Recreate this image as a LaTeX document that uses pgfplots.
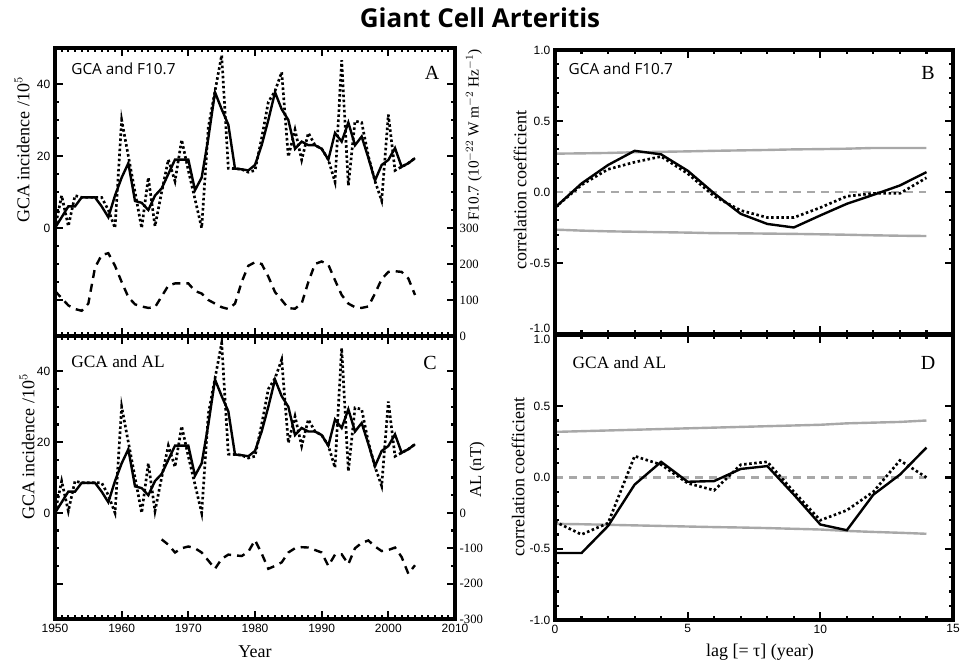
\documentclass[border=0pt]{standalone}
\usepackage{fontspec}
\setmainfont{Liberation Serif}
\setsansfont{Liberation Sans}
\newfontfamily\myriad{Open Sans}
\usepackage{pgfplots}
\usepackage{pgfplotstable}
\pgfplotsset{compat=1.18}

\definecolor{bandgray}{gray}{0.66}

% GCA incidence, solid and dotted series
\pgfplotstableread{
year solid dotted
1950 0    0
1951 3    9
1952 6    0.5
1953 6    9
1954 8.5  8.5
1955 8.5  8.5
1956 8.5  8.5
1957 6    8.5
1958 3    5
1959 9    0
1960 14   30
1961 18   20
1962 7.5  10
1963 7    0
1964 5    14
1965 9    0.5
1966 11   10
1967 15   19
1968 19   13
1969 19   24.5
1970 19   16
1971 10.5 8
1972 14   0
1973 25   28
1974 37.7 38
1975 33   48
1976 28.7 16.6
1977 16.5 16.5
1978 16.3 16.3
1979 16   15.5
1980 17.5 16
1981 23   25
1982 30   35
1983 37.7 38
1984 33   43.3
1985 30   19.8
1986 22   27.3
1987 24   18.9
1988 23   26.4
1989 23   23
1990 22   22
1991 19   19
1992 26.4 12.8
1993 24   46.6
1994 29.3 11.8
1995 23   29.7
1996 25.4 29.3
1997 19.5 20
1998 13.2 13
1999 17.5 7.6
2000 18.9 31.5
2001 22.2 16
2002 17   17
2003 18   18
2004 19.4 19.4
}\gca

% F10.7 solar flux
\pgfplotstableread{
year f
1950 125
1951 105
1952 85
1953 75
1954 70
1955 90
1956 190
1957 225
1958 230
1959 195
1960 150
1961 108
1962 88
1963 82
1964 78
1965 80
1966 110
1967 140
1968 146
1969 146
1970 146
1971 125
1972 118
1973 100
1974 90
1975 80
1976 75
1977 90
1978 150
1979 195
1980 205
1981 200
1982 165
1983 122
1984 100
1985 77
1986 76
1987 90
1988 150
1989 200
1990 207
1991 198
1992 155
1993 114
1994 90
1995 80
1996 78
1997 82
1998 118
1999 158
2000 178
2001 180
2002 178
2003 160
2004 114
}\ften

% AL index
\pgfplotstableread{
year al
1966 -75
1967 -90
1968 -112
1969 -100
1970 -95
1971 -100
1972 -112
1973 -135
1974 -158
1975 -130
1976 -118
1977 -120
1978 -122
1979 -110
1980 -77
1981 -115
1982 -158
1983 -150
1984 -140
1985 -112
1986 -100
1987 -97
1988 -98
1989 -105
1990 -112
1991 -150
1992 -118
1993 -117
1994 -145
1995 -100
1996 -85
1997 -78
1998 -95
1999 -108
2000 -105
2001 -98
2002 -125
2003 -172
2004 -148
}\alindex

% lag correlations, GCA and F10.7
\pgfplotstableread{
lag solid dotted up lo
0  -0.11 -0.11 0.27 -0.265
1   0.06  0.05 0.272 -0.272
2   0.19  0.16 0.275 -0.277
3   0.29  0.21 0.28 -0.28
4   0.265 0.25 0.283 -0.283
5   0.15  0.13 0.286 -0.286
6  -0.01 -0.03 0.29 -0.29
7  -0.154 -0.13 0.293 -0.291
8  -0.225 -0.18 0.296 -0.293
9  -0.25 -0.18 0.30 -0.295
10 -0.165 -0.11 0.302 -0.298
11 -0.083 -0.03 0.305 -0.301
12 -0.02 -0.01 0.31 -0.305
13  0.046 -0.01 0.31 -0.308
14  0.14  0.10 0.31 -0.31
}\corrB

% lag correlations, GCA and AL
\pgfplotstableread{
lag solid dotted up lo
0  -0.53 -0.31 0.32 -0.325
1  -0.53 -0.40 0.325 -0.328
2  -0.34 -0.32 0.33 -0.332
3  -0.05  0.15 0.335 -0.336
4   0.11  0.09 0.34 -0.34
5  -0.03 -0.04 0.345 -0.344
6  -0.025 -0.09 0.35 -0.348
7   0.06  0.09 0.355 -0.351
8   0.08  0.11 0.36 -0.355
9  -0.12 -0.10 0.365 -0.36
10 -0.33 -0.30 0.37 -0.365
11 -0.37 -0.23 0.38 -0.375
12 -0.12 -0.10 0.385 -0.382
13  0.02  0.12 0.39 -0.388
14  0.21  0.0  0.40 -0.395
}\corrD

\pgfplotsset{
  panel/.style={
    scale only axis,
    axis line style={line width=2.5pt, black},
    tick style={line width=1.6pt, black},
    major tick length=6pt, minor tick length=3pt,
    tick align=inside,
    tick label style={font=\sffamily\fontsize{9}{10}\selectfont},
    /pgf/number format/assume math mode=true,
  },
  rightaxis/.style={
    axis x line=none, axis y line*=right, ytick align=inside,
    yticklabel style={font=\rmfamily\fontsize{9.5}{10}\selectfont},
    minor y tick num=0,
  },
  solidcurve/.style={black, line width=1.8pt, no marks},
  dotcurve/.style={black, line width=2pt, dash pattern=on 1.9pt off 1.9pt, no marks},
  dashcurve/.style={black, line width=1.8pt, dash pattern=on 6pt off 4.5pt, no marks},
  band/.style={bandgray, line width=1.8pt, no marks},
  zeroline/.style={bandgray, line width=1.8pt, dash pattern=on 6pt off 4.5pt, no marks},
  corr/.style={
    xmin=0, xmax=15, xtick={0,5,10,15}, minor x tick num=4,
    ymin=-1, ymax=1, minor y tick num=4,
    yticklabel style={/pgf/number format/fixed, /pgf/number format/fixed zerofill,
      /pgf/number format/precision=1},
  },
}

\begin{document}
\begin{tikzpicture}
\useasboundingbox (0,0) rectangle (720pt,497.25pt);

% Panel A
\begin{axis}[panel, name=pA, at={(41.25pt,245.25pt)}, width=300pt, height=216pt,
  xmin=1950, xmax=2010, xtick={1950,1960,...,2010}, xticklabel=\empty, minor x tick num=9,
  ymin=-30, ymax=50, ytick={-20,0,20,40}, yticklabels={{},0,20,40}, minor y tick num=3]
\addplot[solidcurve] table[x=year,y=solid]{\gca};
\addplot[dotcurve] table[x=year,y=dotted]{\gca};
\end{axis}
\begin{axis}[panel, rightaxis, at={(41.25pt,245.25pt)}, width=300pt, height=216pt,
  xmin=1950, xmax=2010, ymin=0, ymax=800, ytick={0,100,200,300}]
\addplot[dashcurve] table[x=year,y=f]{\ften};
\end{axis}

% Panel C
\begin{axis}[panel, name=pC, at={(41.25pt,33pt)}, width=300pt, height=212.25pt,
  xmin=1950, xmax=2010, xtick={1950,1960,...,2010}, minor x tick num=9,
  xticklabel style={/pgf/number format/1000 sep={}},
  ymin=-30, ymax=50, ytick={-20,0,20,40}, yticklabels={{},0,20,40}, minor y tick num=3]
\addplot[solidcurve] table[x=year,y=solid]{\gca};
\addplot[dotcurve] table[x=year,y=dotted]{\gca};
\end{axis}
\begin{axis}[panel, rightaxis, at={(41.25pt,33pt)}, width=300pt, height=212.25pt,
  xmin=1950, xmax=2010, ymin=-300, ymax=500, ytick={-300,-200,-100,0}]
\addplot[dashcurve] table[x=year,y=al]{\alindex};
\end{axis}

% Panel B
\begin{axis}[panel, corr, name=pB, at={(416.25pt,246.75pt)}, width=298.5pt, height=213pt,
  xticklabel=\empty, ytick={-0.5,0,0.5,1},
  extra y ticks={-1}, extra y tick style={yticklabel style={yshift=4pt}}]
\addplot[band] table[x=lag,y=up]{\corrB};
\addplot[band] table[x=lag,y=lo]{\corrB};
\addplot[zeroline] coordinates {(0,0) (14,0)};
\addplot[solidcurve] table[x=lag,y=solid]{\corrB};
\addplot[dotcurve] table[x=lag,y=dotted]{\corrB};
\end{axis}

% Panel D
\begin{axis}[panel, corr, name=pD, at={(416.25pt,32.25pt)}, width=298.5pt, height=213.75pt,
  ytick={-1,-0.5,0,0.5},
  extra y ticks={1}, extra y tick style={yticklabel style={yshift=-3pt}}]
\addplot[band] table[x=lag,y=up]{\corrD};
\addplot[band] table[x=lag,y=lo]{\corrD};
\addplot[zeroline] coordinates {(0,0) (14,0)};
\addplot[solidcurve] table[x=lag,y=solid]{\corrD};
\addplot[dotcurve] table[x=lag,y=dotted]{\corrD};
\end{axis}

% heavy frames
\foreach \p in {pA,pB,pC,pD}
  \draw[line width=2.5pt, black] (\p.south west) rectangle (\p.north east);

% title, labels and panel texts
\node[font=\myriad\bfseries\fontsize{19.5}{21}\selectfont] at (360pt,483.75pt) {Giant Cell Arteritis};
\begin{scope}[every node/.style={font=\fontsize{13.5}{14}\selectfont}]
\node[rotate=90] at (16.5pt,384.75pt) {GCA incidence /10$^5$};
\node[rotate=90] at (20.25pt,162pt) {GCA incidence /10$^5$};
\node[rotate=90] at (390pt,354.75pt) {correlation coefficient};
\node[rotate=90] at (388.5pt,139.5pt) {correlation coefficient};
\node at (191.25pt,8.25pt) {Year};
\node at (570pt,8.25pt) {lag [= τ] (year)};
\end{scope}
\node[rotate=90, font=\fontsize{11.5}{12}\selectfont] at (355.5pt,396pt) {F10.7 (10$^{-22}$ W m$^{-2}$ Hz$^{-1}$)};
\node[rotate=90, font=\fontsize{12.5}{13}\selectfont] at (357.75pt,144.75pt) {AL (nT)};
\node[anchor=west, font=\myriad\fontsize{11.5}{12}\selectfont] at (50pt,445.5pt) {GCA and F10.7};
\node[anchor=west, font=\myriad\fontsize{11.5}{12}\selectfont] at (423pt,445.5pt) {GCA and F10.7};
\node[anchor=west, font=\fontsize{13}{14}\selectfont] at (50pt,225.75pt) {GCA and AL};
\node[anchor=west, font=\fontsize{13}{14}\selectfont] at (426pt,225pt) {GCA and AL};
\begin{scope}[every node/.style={font=\fontsize{15}{16}\selectfont}]
\node at (324pt,442.5pt) {A};
\node at (696pt,442.5pt) {B};
\node at (322.5pt,225pt) {C};
\node at (696pt,225pt) {D};
\end{scope}
\end{tikzpicture}
\end{document}
